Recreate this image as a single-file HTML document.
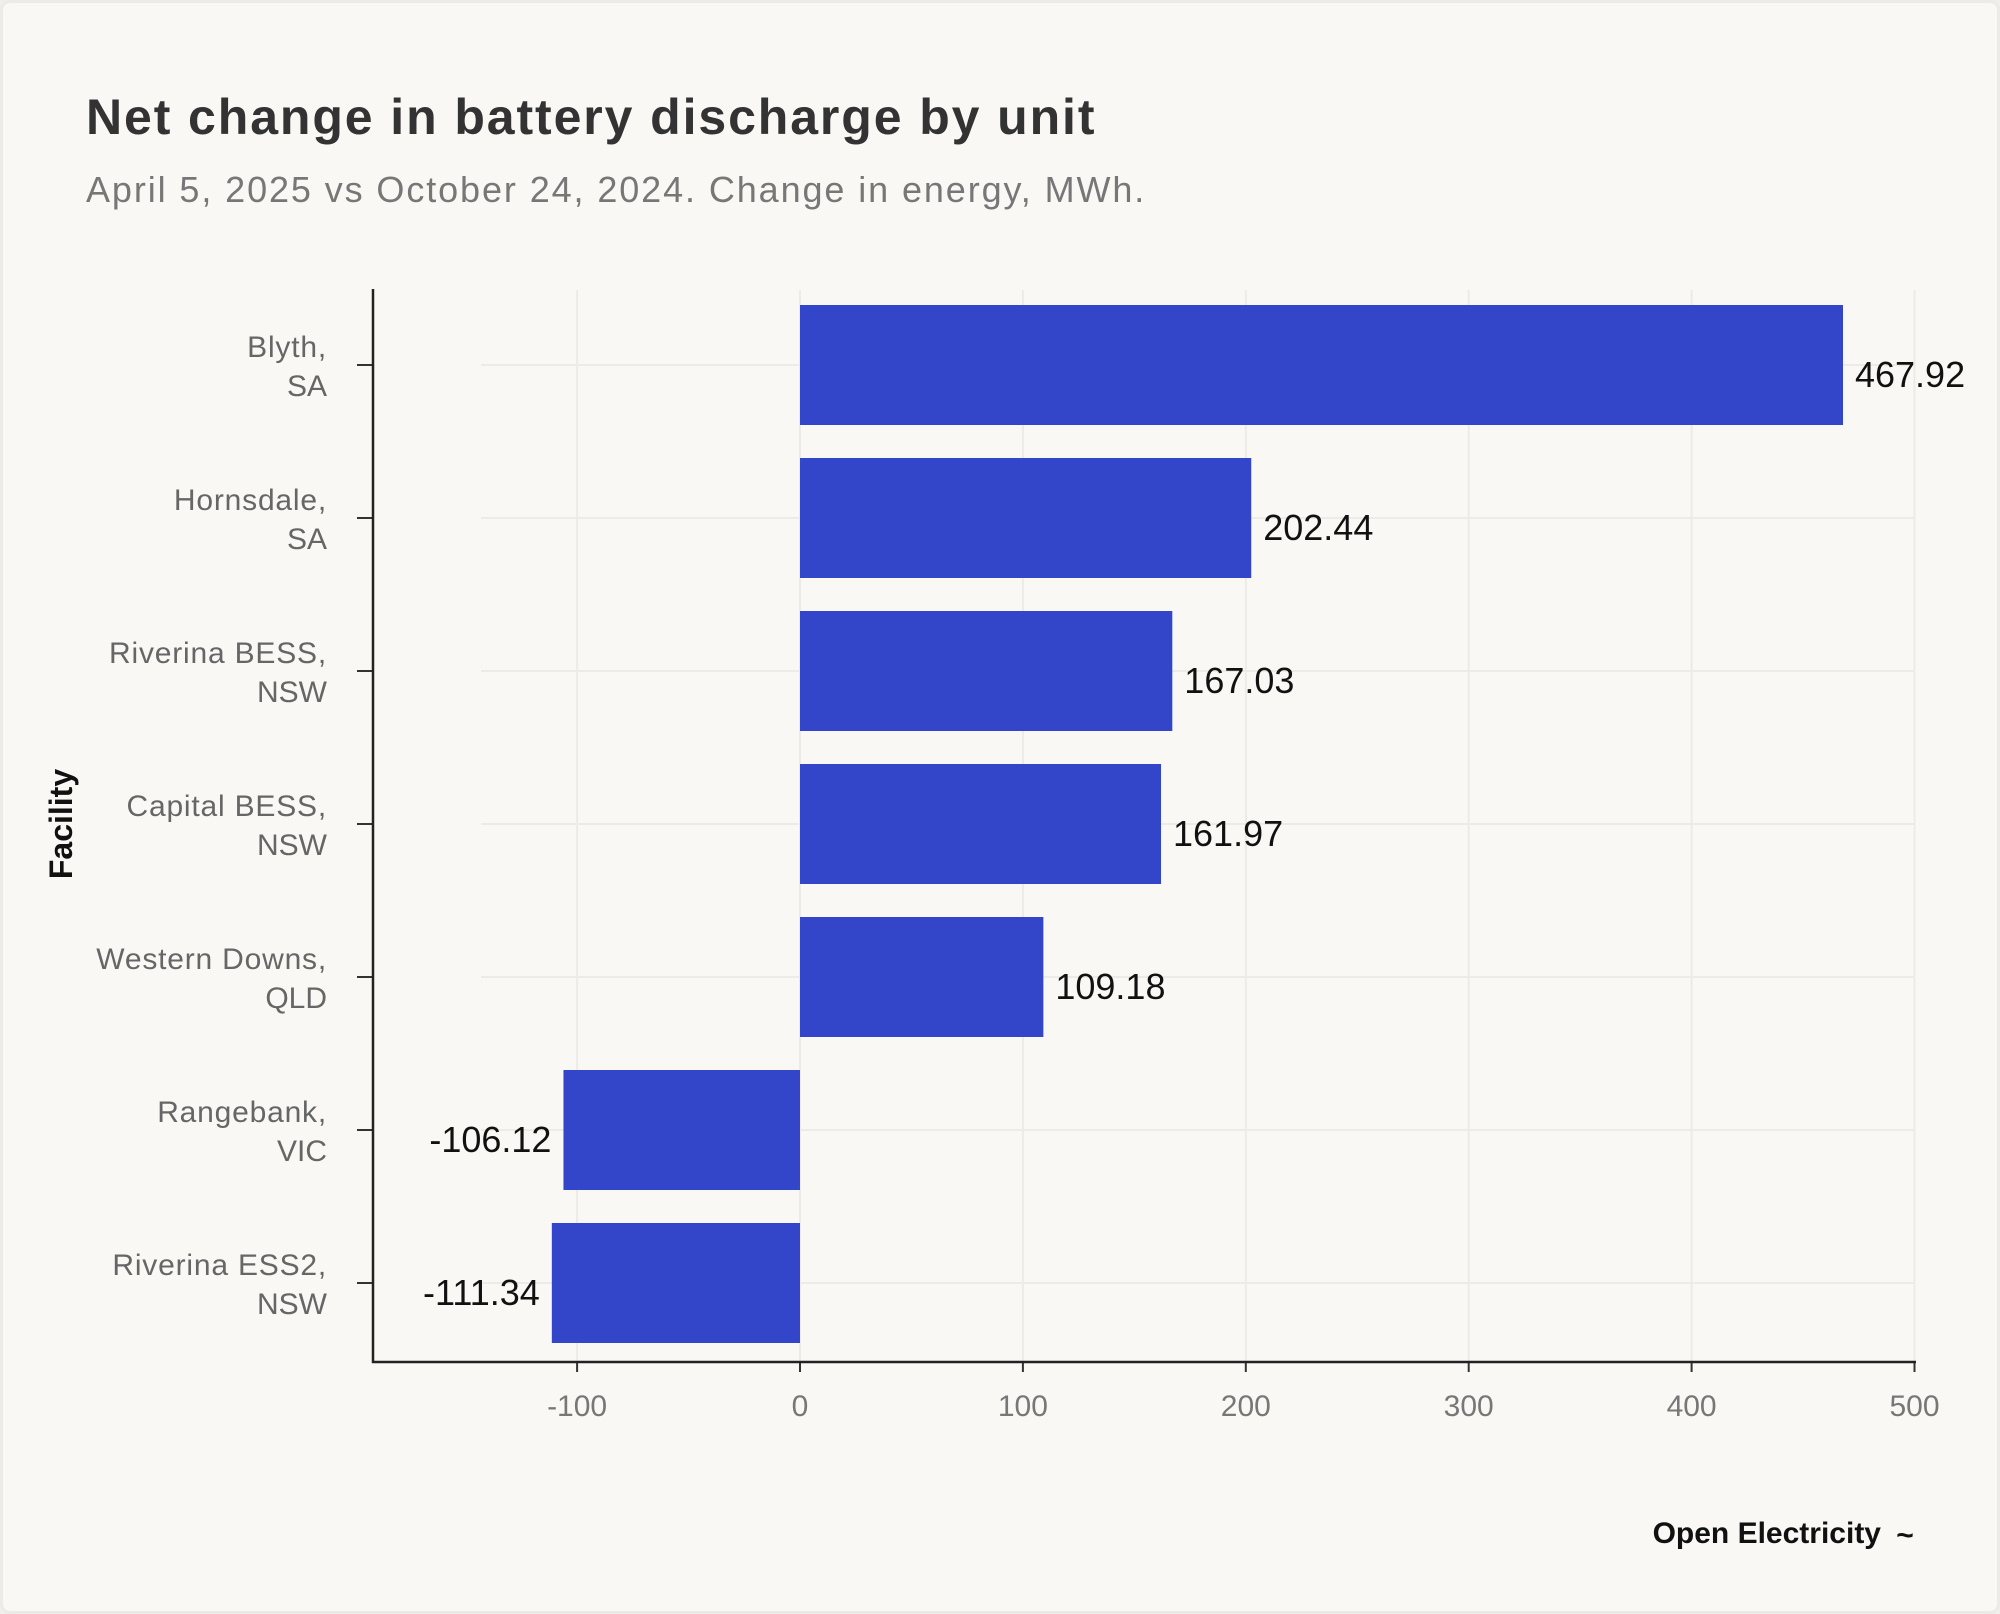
<!DOCTYPE html>
<html><head><meta charset="utf-8">
<style>
html,body{margin:0;padding:0;background:#f0efec;}
#wrap{position:relative;width:2000px;height:1614px;background:#f9f8f5;box-sizing:border-box;border:3px solid #ecebe7;border-radius:10px;overflow:hidden;font-family:"Liberation Sans",sans-serif;}
svg text{font-family:"Liberation Sans",sans-serif;}
</style></head><body>
<div id="wrap">
<svg id="chart" width="2000" height="1614" style="position:absolute;left:-3px;top:-3px">
<text x="86" y="134" font-size="50" font-weight="bold" fill="#333" letter-spacing="1.9">Net change in battery discharge by unit</text>
<text x="86" y="202" font-size="36" fill="#777" letter-spacing="1.9">April 5, 2025 vs October 24, 2024. Change in energy, MWh.</text>
<text transform="translate(72,824) rotate(-90)" text-anchor="middle" font-size="32" font-weight="bold" fill="#111">Facility</text>
<g id="grid"></g><g id="bars"></g><g id="axes"></g>
<text x="1881" y="1543" text-anchor="end" font-size="30" font-weight="bold" fill="#111">Open Electricity</text>
<text x="1905" y="1545" text-anchor="middle" font-size="30" font-weight="bold" fill="#111">~</text>
</svg>
</div>
<script>
const categories1 = ["Blyth,","Hornsdale,","Riverina BESS,","Capital BESS,","Western Downs,","Rangebank,","Riverina ESS2,"];
const categories2 = ["SA","SA","NSW","NSW","QLD","VIC","NSW"];
const values = [467.92,202.44,167.03,161.97,109.18,-106.12,-111.34];
const valueLabels = ["467.92","202.44","167.03","161.97","109.18","-106.12","-111.34"];
const xTicks = [-100,0,100,200,300,400,500];
const xTickLabels = ["-100","0","100","200","300","400","500"];

const NS="http://www.w3.org/2000/svg";
const x=v=>800+v*(1914.5-800)/500;
const yc=i=>365+i*153;
const barH=120;
function mk(tag,attrs,parent,txt){const e=document.createElementNS(NS,tag);for(const k in attrs)e.setAttribute(k,attrs[k]);if(txt!==undefined)e.textContent=txt;parent.appendChild(e);return e;}
const grid=document.getElementById('grid'),bars=document.getElementById('bars'),axes=document.getElementById('axes');
xTicks.forEach((t,i)=>{
  const g=mk('line',{x1:x(t),x2:x(t),y1:290,y2:1362,stroke:'#ecebe7','stroke-width':2},grid);
  
  
  const tk=mk('line',{x1:x(t),x2:x(t),y1:1362,y2:1372,stroke:'#333','stroke-width':2},axes);
  
  
  const lb=mk('text',{x:x(t),y:1416,'text-anchor':'middle','font-size':30,fill:'#777'},axes,xTickLabels[i]);
  
  
});
values.forEach((v,i)=>{
  const gl=mk('line',{x1:481,x2:1914,y1:yc(i),y2:yc(i),stroke:'#ecebe7','stroke-width':2},grid);
  
  
  const x0=Math.min(x(0),x(v)),w=Math.abs(x(v)-x(0));
  const r=mk('rect',{x:x0,y:yc(i)-barH/2,width:w,height:barH,fill:'#3345c8'},bars);
  
  
  const pos=v>=0;
  const vl=mk('text',{x:pos?x(v)+12:x(v)-12,y:yc(i)+22,'text-anchor':pos?'start':'end','font-size':36,fill:'#111'},bars,valueLabels[i]);
  
  
  const tk=mk('line',{x1:357,x2:372,y1:yc(i),y2:yc(i),stroke:'#333','stroke-width':2},axes);
  
  
  const l1=mk('text',{x:327,y:yc(i)-8,'text-anchor':'end','font-size':30,fill:'#666','letter-spacing':0.8},axes,categories1[i]);
  
  
  const l2=mk('text',{x:327,y:yc(i)+31,'text-anchor':'end','font-size':30,fill:'#666'},axes,categories2[i]);
  
  
});
const ya=mk('line',{x1:373,x2:373,y1:289,y2:1363,stroke:'#222','stroke-width':2.5},axes);


const xa=mk('line',{x1:372,x2:1916,y1:1362,y2:1362,stroke:'#222','stroke-width':2.5},axes);


</script>
</body></html>
